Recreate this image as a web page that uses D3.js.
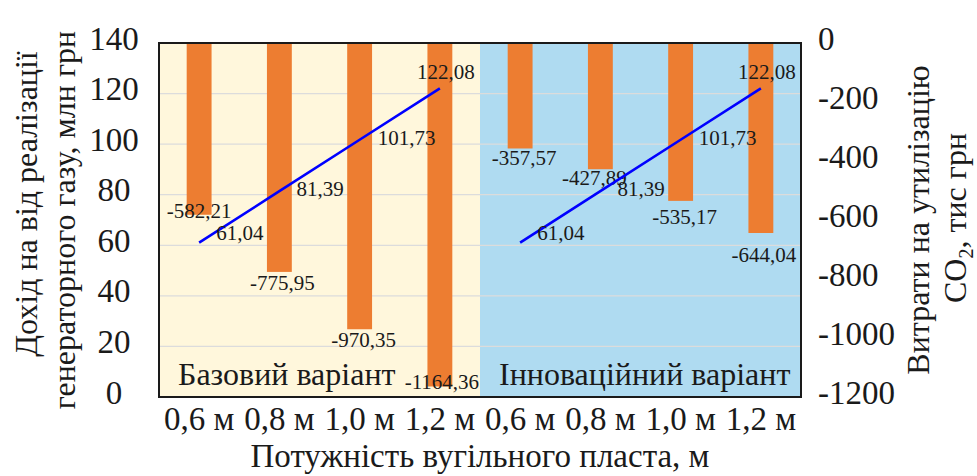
<!DOCTYPE html>
<html>
<head>
<meta charset="utf-8">
<script src="https://cdn.jsdelivr.net/npm/d3@7"></script>
</head>
<body style="margin:0">
<svg id="chart" width="977" height="476"></svg>
<script>
// ---- data ----
const categories = ["0,6 м", "0,8 м", "1,0 м", "1,2 м", "0,6 м", "0,8 м", "1,0 м", "1,2 м"];
const groups = ["Базовий варіант", "Інноваційний варіант"];
const costs = [-582.21, -775.95, -970.35, -1164.36, -357.57, -427.89, -535.17, -644.04];
const income = [61.04, 81.39, 101.73, 122.08, 61.04, 81.39, 101.73, 122.08];
const leftTicks = [0, 20, 40, 60, 80, 100, 120, 140];
const rightTicks = [0, -200, -400, -600, -800, -1000, -1200];
const xTitle = "Потужність вугільного пласта, м";
const leftTitle = ["Дохід на від реалізації", "генераторного газу, млн грн"];
const rightTitle = ["Витрати на утилізацію", "тис грн"];

// ---- layout (label nudges, not data) ----
const barLabelNudge = [[0, 3], [3, 18], [4, 18], [2, 3], [4, 17], [-6, 16], [4, 23], [3, 29]];
const lineLabelNudge = [[17, -3, "start"], [17, 5, "start"], [18, 5, "start"], [6, -9, "middle"]];

const svg = d3.select("#chart");
const X0 = 159, X1 = 801, Y0 = 43, Y1 = 397;
const INK = "#1a1a1a";
const FONT = "Liberation Serif, serif";

const x = d3.scaleBand().domain(d3.range(categories.length)).range([X0, X1])
  .paddingInner(0.69).paddingOuter(0.345);
const yL = d3.scaleLinear().domain([0, 140]).range([Y1, Y0]);
const yR = d3.scaleLinear().domain([-1200, 0]).range([Y1, Y0]);
const cx = i => x(i) + x.bandwidth() / 2;
const fmt = v => d3.format(".2f")(v).replace(".", ",").replace("\u2212", "-");

// backgrounds
const step = x.step();
const bgColors = ["#FFF7DC", "#AFDBF1"];
groups.forEach((g, gi) => {
  const start = X0 + gi * 4 * step;
  svg.append("rect").attr("x", start).attr("y", Y0)
    .attr("width", 4 * step).attr("height", Y1 - Y0).attr("fill", bgColors[gi]);
});

// gridlines
svg.append("g").selectAll("line").data(leftTicks.slice(1)).join("line")
  .attr("x1", X0).attr("x2", X1)
  .attr("y1", d => yL(d)).attr("y2", d => yL(d))
  .attr("stroke", "#DCDCDC").attr("stroke-width", 1.2);

// bars
svg.append("g").selectAll("rect").data(costs).join("rect")
  .attr("x", (d, i) => x(i)).attr("width", x.bandwidth())
  .attr("y", yR(0)).attr("height", d => yR(d) - yR(0))
  .attr("fill", "#ED7D31");

// bar labels
svg.append("g").selectAll("text").data(costs).join("text")
  .attr("x", (d, i) => cx(i) + barLabelNudge[i][0])
  .attr("y", (d, i) => yR(d) + barLabelNudge[i][1])
  .attr("text-anchor", "middle").attr("font-size", 21)
  .text(d => fmt(d));

// income lines per group
const line = d3.line().x(d => cx(d.i)).y(d => yL(d.v));
groups.forEach((g, gi) => {
  const pts = d3.range(4).map(k => ({ i: gi * 4 + k, v: income[gi * 4 + k] }));
  svg.append("path").datum(pts).attr("d", line)
    .attr("fill", "none").attr("stroke", "#0000FF").attr("stroke-width", 2.6);
  svg.append("g").selectAll("text").data(pts).join("text")
    .attr("x", (d, k) => cx(d.i) + lineLabelNudge[k][0])
    .attr("y", (d, k) => yL(d.v) + lineLabelNudge[k][1])
    .attr("text-anchor", (d, k) => lineLabelNudge[k][2])
    .attr("font-size", 21)
    .text(d => fmt(d.v));
});

// group labels
groups.forEach((g, gi) => {
  svg.append("text").attr("x", X0 + gi * 4 * step + 19).attr("y", 385)
    .attr("font-size", 32).text(g);
});

// plot border
svg.append("rect").attr("x", X0).attr("y", Y0).attr("width", X1 - X0).attr("height", Y1 - Y0)
  .attr("fill", "none").attr("stroke", INK).attr("stroke-width", 2);

// left axis tick labels
svg.append("g").selectAll("text").data(leftTicks).join("text")
  .attr("x", 114).attr("y", d => yL(d) + 6.5)
  .attr("text-anchor", "middle").attr("font-size", 33).text(d => d);

// right axis tick labels
svg.append("g").selectAll("text").data(rightTicks).join("text")
  .attr("x", 818).attr("y", d => yR(d) + 6.5)
  .attr("text-anchor", "start").attr("font-size", 33).text(d => d);

// category labels
svg.append("g").selectAll("text").data(categories).join("text")
  .attr("x", (d, i) => cx(i)).attr("y", 430)
  .attr("text-anchor", "middle").attr("font-size", 33).text(d => d);

// x title
svg.append("text").attr("x", (X0 + X1) / 2).attr("y", 467)
  .attr("text-anchor", "middle").attr("font-size", 33).text(xTitle);

// left title (two lines, rotated)
svg.append("text").attr("transform", "translate(37,204) rotate(-90)")
  .attr("text-anchor", "middle").attr("font-size", 32).text(leftTitle[0]);
svg.append("text").attr("transform", "translate(75,220) rotate(-90)")
  .attr("text-anchor", "middle").attr("font-size", 32).text(leftTitle[1]);

// right title
svg.append("text").attr("transform", "translate(929,220) rotate(-90)")
  .attr("text-anchor", "middle").attr("font-size", 32).text(rightTitle[0]);
const rt2 = svg.append("text").attr("transform", "translate(966,218) rotate(-90)")
  .attr("text-anchor", "middle").attr("font-size", 32);
rt2.append("tspan").text("CO");
rt2.append("tspan").attr("font-size", 20).attr("dy", 7).text("2");
rt2.append("tspan").attr("dy", -7).text(", " + rightTitle[1]);

svg.selectAll("text").attr("font-family", FONT).attr("fill", INK);
</script>
</body>
</html>
